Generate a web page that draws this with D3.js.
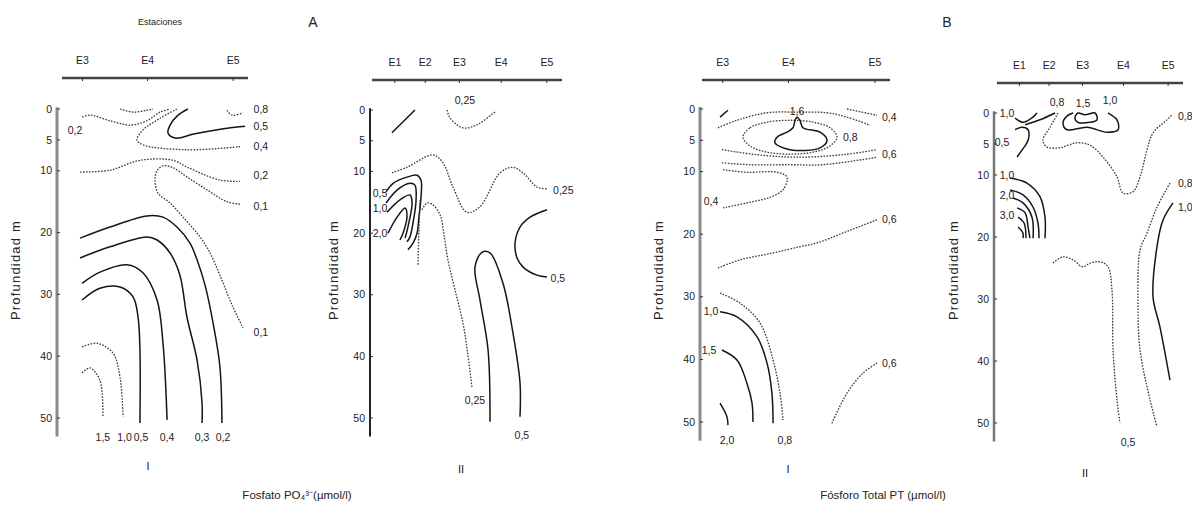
<!DOCTYPE html>
<html>
<head>
<meta charset="utf-8">
<script src="https://cdn.jsdelivr.net/npm/d3@7"></script>
<style>
body { margin: 0; background: #fff; }
text { font-family: "Liberation Sans Narrow", "Liberation Sans", Arial, sans-serif; fill: #222; }
text.wide { font-family: "Liberation Sans", Arial, sans-serif; }
</style>
</head>
<body>
<div id="chart"></div>
<script>
/**
 * Canvas size.
 */
var WIDTH = 1192, HEIGHT = 523;

/**
 * Depth ticks (m) and stations (distance along the section, % of transect).
 */
var depthTicks = [0, 5, 10, 20, 30, 40, 50];
var stations3 = [["E3", 11], ["E4", 46], ["E5", 92]];
var stations5 = [["E1", 12], ["E2", 28], ["E3", 46], ["E4", 68], ["E5", 92]];

/**
 * Isolines: p = [distance %, depth m], d = dotted,
 * c = closed, l = labels [text, distance, depth, anchor].
 */
var fosfatoI = [
    {d: 1, p: [[10.8, 1.3], [15.1, 1.0], [25.8, 1.9], [36.6, 2.6], [45.7, 1.9], [52.7, 0.5], [58.1, 0]], l: [["0,2", 7.0, 3.4, "middle"]]},
    {d: 1, p: [[31.2, 0], [38.2, 0.5], [45.7, 0.2], [48.9, 0]]},
    {d: 1, p: [[88.7, 0.2], [91.4, 1.0], [97.3, 0.6]], l: [["0,8", 103, 0]]},
    {d: 0, p: [[67.7, 0], [62.4, 1.0], [58.1, 2.6], [57.0, 3.9], [60.8, 4.7], [71.5, 4.0], [88.7, 3.1], [98.4, 2.8]], l: [["0,5", 103, 2.8]]},
    {d: 1, p: [[61.8, 0], [52.7, 1.5], [43.5, 3.4], [40.3, 5.0], [43.5, 5.8], [67.2, 6.6], [95.7, 6.1]], l: [["0,4", 103, 6.1]]},
    {d: 1, p: [[9.7, 10.2], [25.8, 9.9], [41.9, 8.3], [59.7, 8.3], [67.2, 9.4], [84.9, 11.5], [95.7, 11.7]], l: [["0,2", 103, 10.7]]},
    {d: 1, p: [[95.7, 15.4], [88.7, 15.0], [78.0, 13.1], [67.2, 11.0], [59.7, 9.5], [54.3, 9.2], [51.1, 10.0], [50.0, 11.5], [51.6, 13.6], [58.1, 15.2], [65.1, 17.5], [74.2, 20.7], [79.6, 23.3], [84.9, 26.9], [91.4, 31.7], [97.3, 35.4]], l: [["0,1", 103, 15.7], ["0,1", 103, 36.2]]},
    {d: 0, p: [[9.7, 20.9], [25.8, 19.1], [45.7, 17.3], [54.3, 17.5], [61.8, 19.1], [68.8, 21.7], [72.6, 24.4], [76.9, 28.5], [81.2, 34.6], [84.9, 41.7], [86.0, 50.8]], l: [["0,2", 86.6, 53.1, "middle"]]},
    {d: 0, p: [[9.7, 24.1], [25.8, 22.3], [45.7, 20.7], [51.1, 21.2], [58.1, 23.3], [63.4, 26.9], [67.2, 33.7], [72.6, 40.6], [75.3, 47.6], [75.3, 50.8]], l: [["0,3", 75.3, 53.1, "middle"]]},
    {d: 0, p: [[10.8, 28.2], [20.4, 26.4], [34.9, 25.2], [43.5, 26.5], [51.1, 30.9], [54.3, 37.9], [56.5, 50.3]], l: [["0,4", 56.5, 53.1, "middle"]]},
    {d: 0, p: [[10.8, 30.9], [20.4, 29.0], [31.2, 28.8], [38.2, 30.4], [40.9, 33.7], [41.9, 39.0], [41.9, 50.8]], l: [["0,5", 42.5, 53.1, "middle"]]},
    {d: 1, p: [[10.8, 38.5], [18.8, 37.9], [27.4, 39.5], [31.2, 43.4], [32.8, 49.8]], l: [["1,0", 33.6, 53.1, "middle"]]},
    {d: 1, p: [[10.8, 42.7], [15.1, 41.9], [20.4, 43.9], [22.0, 49.8]], l: [["1,5", 22.0, 53.1, "middle"]]}
];

var fosfatoII = [
    {d: 0, p: [[10.5, 3.7], [22.6, 0]]},
    {d: 1, p: [[39.5, 0], [41.1, 1.3], [47.9, 2.9], [55.3, 2.4], [64.7, 0.3]], l: [["0,25", 48.9, -1.6, "middle"]]},
    {d: 1, p: [[10.5, 10.2], [18.4, 9.3], [32.1, 7.3], [37.4, 8.6], [42.6, 12.5], [50.0, 16.6], [56.8, 15.7], [67.4, 10.2], [74.2, 9.3], [79.5, 10.2], [86.8, 12.5], [92.1, 12.8]], l: [["0,25", 95.3, 13.0]]},
    {d: 0, p: [[7.4, 13.3], [11.1, 11.9], [18.4, 10.9], [23.7, 10.6], [25.8, 11.4], [25.8, 14.1], [24.7, 17.4], [23.7, 20.0], [21.6, 21.6], [18.9, 22.7]], l: [["0,5", 4.2, 13.5, "middle"]]},
    {d: 0, p: [[7.4, 15.1], [13.2, 13.0], [20.0, 11.9], [22.6, 12.2], [23.2, 14.6], [21.6, 18.3], [20.0, 20.6], [18.4, 21.4]], l: [["1,0", 4.2, 15.9, "middle"]]},
    {d: 0, p: [[7.9, 16.6], [14.7, 14.6], [20.0, 13.8], [21.1, 15.1], [18.9, 19.0], [17.4, 20.8]]},
    {d: 0, p: [[8.4, 20.0], [13.2, 17.4], [17.4, 15.9], [18.4, 17.4], [16.3, 20.0], [14.7, 21.1]], l: [["2,0", 4.2, 20.0, "middle"]]},
    {d: 1, p: [[25.3, 14.6], [24.7, 19.5], [24.2, 25.2]]},
    {d: 1, p: [[26.3, 16.2], [28.9, 15.1], [32.1, 15.4], [35.8, 17.0], [37.9, 20.3], [40.0, 24.4], [43.7, 29.2], [47.9, 34.6], [50.5, 39.8], [52.6, 45.0]], l: [["0,25", 54.2, 47.1, "middle"]]},
    {d: 0, p: [[62.1, 50.6], [61.1, 39.0], [56.8, 30.8], [54.2, 25.5], [57.9, 23.1], [62.1, 23.2], [68.9, 28.1], [74.2, 36.2], [77.9, 44.3], [77.9, 49.8]], l: [["0,5", 78.9, 52.8, "middle"]]},
    {d: 0, p: [[92.1, 16.2], [83.2, 17.4], [77.9, 19.0], [75.3, 21.6], [76.3, 24.0], [79.5, 25.5], [86.8, 26.8], [92.1, 27.1]], l: [["0,5", 94, 27.3]]}
];

var totalI = [
    {d: 0, p: [[9.6, 1.3], [13.8, 0.2]]},
    {d: 1, p: [[8.5, 3.0], [18.6, 1.8], [34.6, 0.6], [50.5, 0.5], [66.5, 0.6], [77.1, 1.3], [89.4, 2.6]], l: [["0,4", 95.7, 1.4]]},
    {d: 1, p: [[77.1, 0], [93.1, 1.0]]},
    {d: 1, c: 1, p: [[21.8, 4.5], [25.5, 3.0], [34.6, 2.1], [46.8, 1.8], [59.0, 2.1], [68.1, 3.0], [71.8, 4.5], [68.1, 5.9], [59.0, 6.9], [46.8, 7.2], [34.6, 6.9], [25.5, 5.9]], l: [["0,8", 75.0, 4.6]]},
    {d: 0, c: 1, p: [[38.8, 5.4], [39.9, 4.5], [45.2, 3.7], [48.4, 3.0], [49.5, 1.8], [50.5, 1.3], [52.1, 1.8], [53.7, 3.0], [62.8, 3.7], [66.5, 5.0], [62.8, 6.2], [46.8, 6.5]], l: [["1,6", 50.5, 0.3, "middle"]]},
    {d: 1, p: [[10.6, 6.5], [29.3, 7.3], [50.5, 7.7], [75.0, 7.3], [93.1, 6.5]]},
    {d: 1, p: [[10.6, 8.6], [25.5, 8.9], [46.8, 8.9], [64.4, 8.9], [93.1, 7.7]], l: [["0,6", 95.7, 7.3]]},
    {d: 1, p: [[11.2, 9.7], [23.9, 10.1], [39.9, 10.1], [45.2, 10.9], [43.1, 12.9], [36.2, 14.1], [23.9, 15.0], [11.2, 15.8]], l: [["0,4", 4.8, 14.8, "middle"]]},
    {d: 1, p: [[8.5, 25.4], [20.2, 24.1], [37.8, 23.0], [52.1, 22.0], [61.2, 21.4], [75.0, 19.8], [93.1, 17.7]], l: [["0,6", 95.7, 17.7]]},
    {d: 1, p: [[9.6, 29.4], [20.2, 31.0], [30.9, 34.2], [37.8, 40.1], [41.5, 45.4], [43.1, 49.7]], l: [["0,8", 44.1, 52.9, "middle"]]},
    {d: 0, p: [[9.6, 32.4], [18.6, 33.2], [29.3, 36.4], [34.6, 40.6], [37.2, 45.4], [37.8, 50.2]], l: [["1,0", 4.8, 32.4, "middle"]]},
    {d: 0, p: [[10.6, 38.5], [18.6, 40.1], [23.9, 43.8], [26.6, 47.0], [27.1, 50.0]], l: [["1,5", 3.7, 38.5, "middle"]]},
    {d: 0, p: [[9.6, 47.0], [13.3, 49.2], [13.8, 50.5]], l: [["2,0", 13.3, 52.9, "middle"]]},
    {d: 1, p: [[69.1, 50.2], [77.1, 45.4], [85.6, 42.2], [93.1, 40.6]], l: [["0,6", 95.7, 40.6]]}
];

var totalII = [
    {d: 0, p: [[9.7, 0.8], [14.0, 1.5], [18.8, 0.8], [21.5, 0]], l: [["1,0", 5.4, 0, "middle"]]},
    {d: 0, p: [[15.1, 1.9], [23.1, 1.1], [31.2, 0]]},
    {d: 0, p: [[9.7, 2.7], [13.4, 2.3], [16.7, 2.7], [16.7, 4.4], [13.4, 6.0], [10.8, 7.1]], l: [["0,5", 2.7, 4.8, "middle"]]},
    {d: 1, p: [[32.8, 0], [28.5, 2.3], [24.7, 4.4], [26.9, 5.5], [33.9, 5.6], [43.0, 4.8], [50.0, 5.2], [57.0, 7.1], [64.5, 10.3], [67.7, 12.9], [73.1, 12.7], [76.9, 10.3], [80.6, 6.0], [83.9, 3.2], [91.4, 1.1], [94.1, 0.3]], l: [["0,8", 32.3, -1.8, "middle"], ["0,8", 97.3, 0.6]]},
    {d: 0, c: 1, p: [[41.9, 0.8], [43.5, 0], [47.3, 0.3], [52.7, 0], [53.8, 1.1], [50.0, 1.5], [43.5, 1.5]], l: [["1,5", 46.2, -1.6, "middle"]]},
    {d: 0, p: [[40.9, 0], [37.6, 0.5], [35.5, 1.6], [37.6, 2.7], [48.4, 2.3], [59.1, 3.1], [65.1, 2.7], [64.5, 1.1], [60.8, 0.2], [59.7, 0]], l: [["1,0", 60.8, -2.1, "middle"]]},
    {d: 0, p: [[7.0, 10.5], [16.1, 11.3], [23.1, 13.5], [25.8, 16.8], [25.8, 20.2]], l: [["1,0", 5.4, 10.0, "middle"]]},
    {d: 0, p: [[7.0, 12.4], [14.0, 13.2], [19.4, 15.2], [22.0, 17.7], [22.6, 20.2]]},
    {d: 0, p: [[8.6, 13.7], [14.0, 14.5], [18.8, 16.8], [19.4, 20.2]], l: [["2,0", 5.4, 13.2, "middle"]]},
    {d: 0, p: [[10.8, 15.3], [15.1, 16.1], [16.7, 18.4], [17.7, 20.2]]},
    {d: 0, p: [[11.3, 16.8], [14.5, 17.7], [15.6, 20.2]], l: [["3,0", 5.4, 16.5, "middle"]]},
    {d: 0, p: [[11.3, 18.4], [14.0, 19.4], [14.0, 20.2]]},
    {d: 1, p: [[30.1, 24.2], [35.5, 23.2], [40.9, 23.7], [46.2, 24.8], [50.0, 24.2], [55.4, 24.0], [59.7, 24.8], [61.8, 28.5], [62.4, 38.2], [64.5, 46.3], [66.1, 50.0]], l: [["0,5", 70.4, 53.1, "middle"]]},
    {d: 1, p: [[93.0, 11.3], [86.0, 15.2], [80.6, 19.4], [76.9, 22.1], [75.8, 30.2], [76.9, 38.2], [82.3, 46.3], [86.0, 50.6]], l: [["0,8", 97.3, 11.3]]},
    {d: 0, p: [[94.6, 14.5], [89.2, 17.3], [86.0, 21.6], [83.9, 29.7], [87.6, 34.5], [93.0, 43.1]], l: [["1,0", 97.3, 15.2]]}
];

/**
 * Panel layout.
 */
var panels = [
    {lines: fosfatoI, st: stations3, ax: 57, xr: [62, 248], top: 78, yr: [109, 418], yt: 15, roman: "I", rx: 148, ry: 470, axc: "#8c8c8c", axw: 3},
    {lines: fosfatoII, st: stations5, ax: 370, xr: [372, 562], top: 80, yr: [110, 418], yt: 333, roman: "II", rx: 461, ry: 473, axc: "#222", axw: 2},
    {lines: totalI, st: stations3, ax: 700, xr: [702, 890], top: 80, yr: [109, 422], yt: 658, roman: "I", rx: 788, ry: 473, axc: "#8c8c8c", axw: 3},
    {lines: totalII, st: stations5, ax: 994, xr: [997, 1183], top: 83, yr: [113, 423], yt: 953, roman: "II", rx: 1085, ry: 477, axc: "#777", axw: 2.5}
];

var SVG = d3.select("#chart").append("svg")
    .attr("width", WIDTH)
    .attr("height", HEIGHT);

SVG.append("rect").attr("width", WIDTH).attr("height", HEIGHT).attr("fill", "white");

panels.forEach(function (P) {
    var x = d3.scaleLinear().domain([0, 100]).range(P.xr);
    var y = d3.scaleLinear().domain([0, 50]).range(P.yr);
    var g = SVG.append("g");

    // top station axis
    g.append("line").attr("x1", P.xr[0]).attr("x2", P.xr[1]).attr("y1", P.top).attr("y2", P.top)
        .attr("stroke", "#444").attr("stroke-width", 2.5);
    P.st.forEach(function (s) {
        g.append("line").attr("x1", x(s[1])).attr("x2", x(s[1])).attr("y1", P.top).attr("y2", P.top + 3)
            .attr("stroke", "#333").attr("stroke-width", 1);
        g.append("text").attr("x", x(s[1])).attr("y", P.top - 14).attr("text-anchor", "middle")
            .attr("font-size", 10.5).text(s[0]);
    });

    // depth axis
    g.append("line").attr("x1", P.ax).attr("x2", P.ax).attr("y1", y(-0.3)).attr("y2", y(53))
        .attr("stroke", P.axc).attr("stroke-width", P.axw);
    depthTicks.forEach(function (t) {
        g.append("line").attr("x1", P.ax).attr("x2", P.ax + 3).attr("y1", y(t)).attr("y2", y(t))
            .attr("stroke", "#333").attr("stroke-width", 1);
        g.append("text").attr("x", P.ax - 5).attr("y", y(t)).attr("dy", "0.35em")
            .attr("text-anchor", "end").attr("font-size", 10.5).text(t);
    });
    g.append("text").attr("class", "wide").attr("transform", "translate(" + (P.yt + 5) + "," + 270 + ") rotate(-90)")
        .attr("text-anchor", "middle").attr("font-size", 13).attr("letter-spacing", 1.2).text("Profundidad m");

    // isolines
    P.lines.forEach(function (L) {
        var line = d3.line().x(function (p) { return x(p[0]); }).y(function (p) { return y(p[1]); })
            .curve(L.c ? d3.curveCatmullRomClosed : d3.curveCatmullRom);
        g.append("path").attr("d", line(L.p)).attr("fill", "none")
            .attr("stroke", L.d ? "#3a3a3a" : "#151515")
            .attr("stroke-width", L.d ? 1.3 : 1.5)
            .attr("stroke-dasharray", L.d ? "1.6,1.4" : null);
        (L.l || []).forEach(function (t) {
            g.append("text").attr("x", x(t[1])).attr("y", y(t[2])).attr("dy", "0.35em")
                .attr("text-anchor", t[3] || "start").attr("font-size", 10.5).text(t[0]);
        });
    });

    g.append("text").attr("x", P.rx).attr("y", P.ry).attr("text-anchor", "middle")
        .attr("font-size", 11).text(P.roman);
});

// titles
SVG.append("text").attr("x", 160).attr("y", 25).attr("text-anchor", "middle").attr("font-size", 9).text("Estaciones");
SVG.append("text").attr("class", "wide").attr("x", 313).attr("y", 27).attr("text-anchor", "middle").attr("font-size", 14).text("A");
SVG.append("text").attr("class", "wide").attr("x", 947).attr("y", 27).attr("text-anchor", "middle").attr("font-size", 14).text("B");
SVG.append("text").attr("class", "wide").attr("x", 297).attr("y", 499).attr("text-anchor", "middle").attr("font-size", 11.5)
    .text("Fosfato PO\u2084\u00B3\u207B(\u00B5mol/l)");
SVG.append("text").attr("class", "wide").attr("x", 883).attr("y", 499).attr("text-anchor", "middle").attr("font-size", 11.5)
    .text("F\u00F3sforo Total PT (\u00B5mol/l)");
</script>
</body>
</html>
